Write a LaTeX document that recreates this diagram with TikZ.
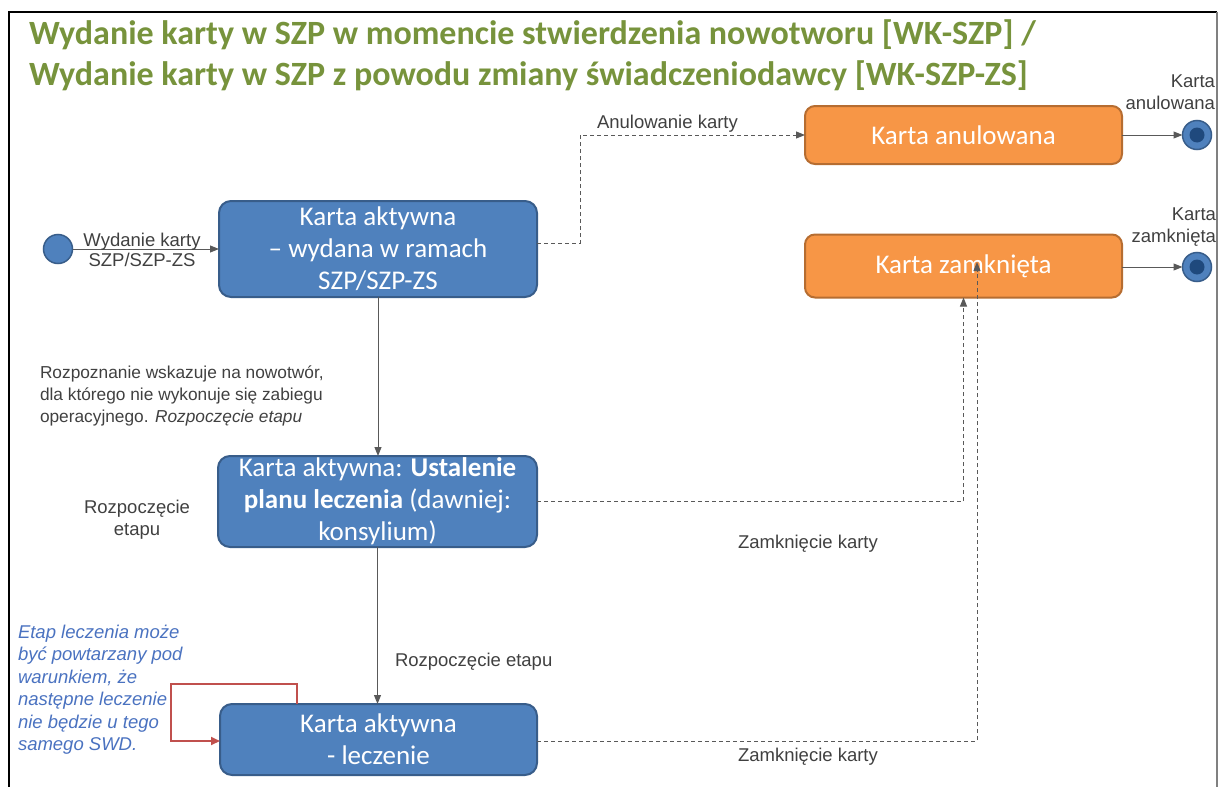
\documentclass[tikz,border=0pt]{standalone}
\usepackage{fontspec}
\setmainfont{Liberation Sans}
\newfontfamily\carlito{Carlito}
\usetikzlibrary{arrows.meta,calc}
\definecolor{boxblue}{HTML}{4F81BD}
\definecolor{boxblueline}{HTML}{385D8A}
\definecolor{boxorange}{HTML}{F79646}
\definecolor{boxorangeline}{HTML}{B66D31}
\definecolor{titlegreen}{HTML}{77933C}
\definecolor{labelgrey}{HTML}{404040}
\definecolor{linegrey}{HTML}{595959}
\definecolor{noteblue}{HTML}{4A72C0}
\definecolor{loopred}{HTML}{C0504D}
\definecolor{enddark}{HTML}{1F497D}
\begin{document}
\begin{tikzpicture}[x=1pt,y=-1pt,
  every node/.style={inner sep=0pt,outer sep=0pt},
  bluebox/.style={draw=boxblueline,fill=boxblue,line width=2pt,rounded corners=12pt,
    text=white,font=\carlito\fontsize{27}{32}\selectfont,align=center},
  orangebox/.style={draw=boxorangeline,fill=boxorange,line width=2pt,rounded corners=10pt,
    text=white,font=\carlito\fontsize{27}{32}\selectfont,align=center},
  lbl/.style={text=labelgrey,font=\fontsize{18.5}{22}\selectfont,align=center},
  flow/.style={draw=linegrey,line width=1pt,-{Triangle[length=9pt,width=7pt]}},
  dflow/.style={draw=linegrey,line width=1pt,dash pattern=on 4pt off 3pt,-{Triangle[length=9pt,width=7pt]}},
  startc/.style={circle,draw=boxblueline,fill=boxblue,line width=1.5pt,minimum size=29pt},
  endc/.style={circle,draw=boxblueline,fill=boxblue,line width=1.5pt,minimum size=29pt},
]
\useasboundingbox (0,0) rectangle (1219,787);
% frame
\draw[black,line width=1.2pt] (9,787) -- (9,12) -- (1217,12);
\draw[gray,line width=1.5pt] (1217,12) -- (1217,787);

% title
\node[anchor=west,text=titlegreen,font=\carlito\bfseries\fontsize{34}{40}\selectfont] (t1) at (29,35) {Wydanie karty w SZP w momencie stwierdzenia nowotworu [WK-SZP] /};
\node[anchor=west,text=titlegreen,font=\carlito\bfseries\fontsize{34}{40}\selectfont] (t2) at (29,76) {Wydanie karty w SZP z powodu zmiany świadczeniodawcy [WK-SZP-ZS]};

% states
\node[startc] (s) at (58,249) {};
\node[bluebox,minimum width=318pt,minimum height=96pt] (b1) at (378,249) {Karta aktywna\\– wydana w ramach\\SZP/SZP-ZS};
\node[bluebox,minimum width=319pt,minimum height=91pt] (b2) at (377.5,501.5) {Karta aktywna: \textbf{Ustalenie}\\\textbf{planu leczenia} (dawniej:\\konsylium)};
\node[bluebox,minimum width=317pt,minimum height=71pt] (b3) at (378.5,739.5) {Karta aktywna\\- leczenie};
\node[orangebox,minimum width=317pt,minimum height=58pt] (oa) at (963.5,135) {Karta anulowana};
\node[orangebox,minimum width=317pt,minimum height=63pt] (oz) at (963.5,266) {Karta zamknięta};
\node[endc] (ea) at (1197,135) {};
\node[endc] (ez) at (1197,267) {};
\fill[enddark] (ea.center) circle (7.5);
\fill[enddark] (ez.center) circle (7.5);

% connectors
\draw[flow] (s) -- (b1.west);
\node[lbl,anchor=south] (l0a) at (142,250) {Wydanie karty};
\node[lbl,anchor=north] (l0b) at (142,253) {SZP/SZP-ZS};

\draw[flow] (b1.south) -- (b1.south |- b2.north);
\node[lbl,align=left,anchor=north west,font=\fontsize{17.3}{22}\selectfont] (l1) at (40,366) {Rozpoznanie wskazuje na nowotwór,\\dla którego nie wykonuje się zabiegu\\operacyjnego. \textit{Rozpoczęcie etapu}};
\node[lbl] (l2) at (137,520) {Rozpoczęcie\\etapu};

\draw[flow] (b2.south) -- (b2.south |- b3.north);
\node[lbl,anchor=west] (l3) at (395,662) {Rozpoczęcie etapu};

\coordinate (ca) at (580,0);
\draw[dflow] ($(b1.east)+(0,-6)$) -| (ca |- oa.west) -- (oa.west);
\node[lbl,anchor=south west] (l4) at (597,132) {Anulowanie karty};

\draw[dflow] (b2.east) -| (oz.south);
\node[lbl] (l5) at (808,544) {Zamknięcie karty};

\coordinate (ztip) at (977,262);
\draw[dflow] ($(b3.east)+(0,1.5)$) -| (ztip);
\node[lbl] (l6) at (808,757) {Zamknięcie karty};

\draw[flow] (oa.east) -- (ea.west);
\draw[flow] (oz.east |- ez.west) -- (ez.west);
\node[lbl,align=right,anchor=south east] (l7) at (1215,110) {Karta\\anulowana};
\node[lbl,align=right,anchor=south east] (l8) at (1216,246) {Karta\\zamknięta};

% self loop
\coordinate (lp) at (297,0);
\draw[draw=loopred,line width=2pt,-{Triangle[length=9pt,width=8pt]}] (lp |- b3.north) -- (297,684) -- (171,684) -- (171,741) -- (b3.west |- 0,741);
\node[text=noteblue,font=\itshape\fontsize{18.5}{22.5}\selectfont,align=left,anchor=north west] (note) at (18,625) {Etap leczenia może\\być powtarzany pod\\warunkiem, że\\następne leczenie\\nie będzie u tego\\samego SWD.};
\end{tikzpicture}
\end{document}
